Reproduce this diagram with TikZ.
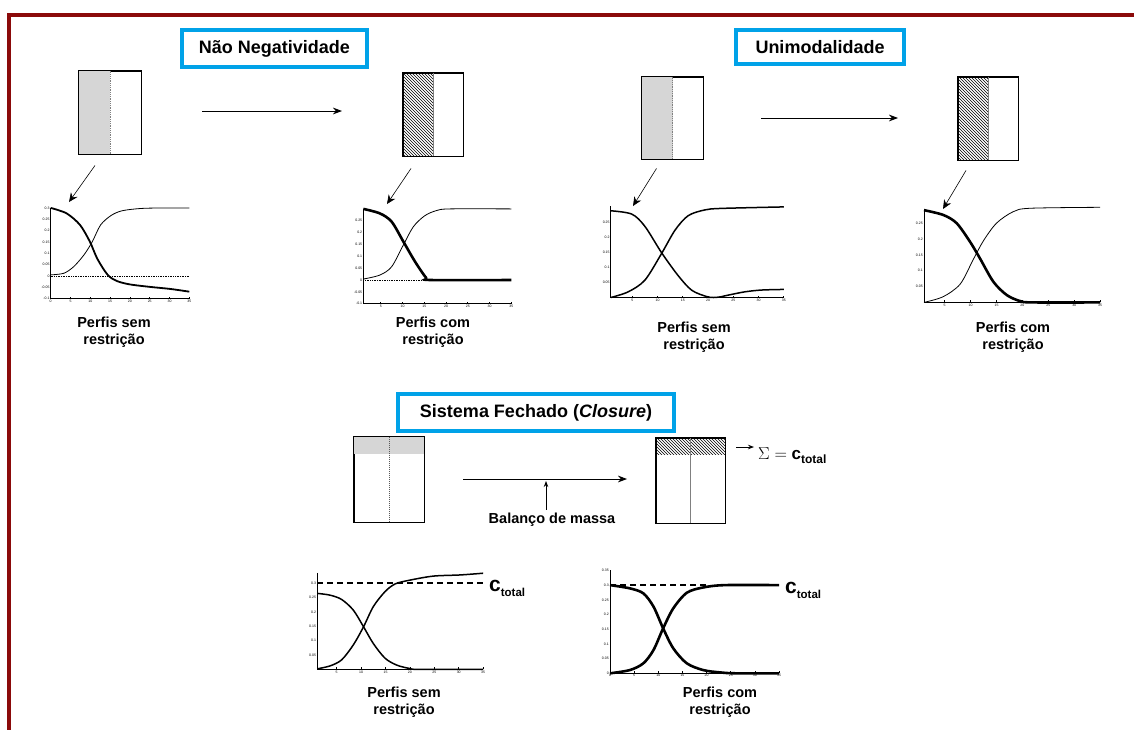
\documentclass[tikz,border=0pt]{standalone}
\usepackage{fontspec}
\setmainfont{Liberation Sans}
\usepackage{xcolor}
\usepackage{tikz}
\usetikzlibrary{arrows.meta,positioning,patterns}
\definecolor{framered}{HTML}{8B0A0A}
\definecolor{titlecyan}{HTML}{00A2E8}

\begin{document}
\begin{tikzpicture}[
  x=1pt, y=-1pt,
  titlebox/.style={draw=titlecyan, line width=3.5pt, fill=white, inner sep=0pt, font=\bfseries\fontsize{18}{20}\selectfont},
  matbox/.style={draw, line width=0.9pt, inner sep=0pt},
  proflbl/.style={align=center, font=\bfseries\fontsize{14.5}{16.5}\selectfont},
  ticklbl/.style={inner sep=1pt, font=\fontsize{3.5}{4}\selectfont},
  axisline/.style={line width=0.8pt},
  profthin/.style={line width=0.8pt},
  profmid/.style={line width=1.5pt},
  profbold/.style={line width=2.6pt},
  ctotal/.style={dashed, line width=1.6pt, dash pattern=on 6pt off 4pt},
  ctot/.style={anchor=west, inner sep=0pt},
  >={Stealth[length=3.2mm]},
  diag/.style={->, line width=0.6pt, >={Stealth[length=9pt, width=8pt]}}
]
  \useasboundingbox (0,0) rectangle (1134,729);
  \draw[framered, line width=4.5pt] (9,740) -- (9,15) -- (1140,15);

  % titles
  \node[titlebox, minimum width=185pt, minimum height=37pt] (tNN) at (274.5,48.5) {Não Negatividade};
  \node[titlebox, minimum width=168pt, minimum height=34pt] (tUni) at (820,47) {Unimodalidade};
  \node[titlebox, minimum width=276pt, minimum height=37pt] (tClos) at (536,412.5) {Sistema Fechado (\textit{Closure})};

  % data matrices
  \node[matbox, minimum width=62pt, minimum height=83pt] (mNNa) at (110,112.5) {};
  \fill[gray!32] (mNNa.north west) rectangle (mNNa.south);
  \draw[gray, densely dotted, line width=0.8pt] (mNNa.north) -- (mNNa.south);
  \draw[matbox] (mNNa.north west) rectangle (mNNa.south east);

  \node[matbox, minimum width=60pt, minimum height=83pt] (mNNb) at (433,114.5) {};
  \fill[pattern=north west lines] (mNNb.north west) rectangle (mNNb.south);
  \draw[gray, line width=0.5pt] (mNNb.north) -- (mNNb.south);
  \draw[matbox] (mNNb.north west) rectangle (mNNb.south east);

  \node[matbox, minimum width=61pt, minimum height=82pt] (mUa) at (672.5,118) {};
  \fill[gray!32] (mUa.north west) rectangle (mUa.south);
  \draw[gray, densely dotted, line width=0.8pt] (mUa.north) -- (mUa.south);
  \draw[matbox] (mUa.north west) rectangle (mUa.south east);

  \node[matbox, minimum width=60pt, minimum height=83pt] (mUb) at (988,118.5) {};
  \fill[pattern=north west lines] (mUb.north west) rectangle (mUb.south);
  \draw[gray, line width=0.5pt] (mUb.north) -- (mUb.south);
  \draw[matbox] (mUb.north west) rectangle (mUb.south east);

  \node[matbox, minimum width=70pt, minimum height=85pt] (mCa) at (389,479.5) {};
  \fill[gray!32] (mCa.north west) rectangle ([yshift=-17pt]mCa.north east);
  \draw[gray!70!black, densely dotted, line width=1pt] (mCa.north) -- (mCa.south);
  \draw[matbox] (mCa.north west) rectangle (mCa.south east);

  \node[matbox, minimum width=69pt, minimum height=85pt] (mCb) at (690.5,480.5) {};
  \fill[pattern=north west lines] (mCb.north west) rectangle ([yshift=-17pt]mCb.north east);
  \draw[gray, line width=0.5pt] (mCb.north) -- (mCb.south);
  \draw[matbox] (mCb.north west) rectangle (mCb.south east);

  % horizontal arrows
  \coordinate (nnA) at (202,111);
  \coordinate (nnB) at (342,111);
  \draw[->, line width=0.9pt] (nnA) -- (nnB);
  \coordinate (uA) at (761,118);
  \coordinate (uB) at (898,118);
  \draw[->, line width=0.9pt] (uA) -- (uB);
  \coordinate (cA) at (463,479);
  \coordinate (cB) at (627,479);
  \draw[->, line width=0.9pt] (cA) -- (cB);

  \node[proflbl] (bal) at (552,520) {Balanço de massa};
  \coordinate (balTip) at (546,481);
  \draw[->, line width=0.8pt, >={Stealth[length=6pt]}] (bal.north -| balTip) -- (balTip);

  \coordinate (sumA) at (736,447);
  \node[ctot] (sum) at (758,456) {\fontsize{17}{17}\selectfont$\Sigma=$ \textbf{c}\raisebox{-4pt}{\bfseries\fontsize{12}{12}\selectfont total}};
  \draw[->, line width=0.8pt, >={Stealth[length=6pt]}] (sumA) -- ([xshift=-4pt]sum.west |- sumA);

  % arrows from matrices to profiles
  \coordinate (dNNa) at (69,202);
  \coordinate (dNNb) at (387,204);
  \coordinate (dUa) at (633,206);
  \coordinate (dUb) at (943,209);
  \draw[diag] ([xshift=-15pt,yshift=-11pt]mNNa.south) -- (dNNa);
  \draw[diag] ([xshift=-22pt,yshift=-12pt]mNNb.south) -- (dNNb);
  \draw[diag] ([xshift=-16pt,yshift=-9pt]mUa.south) -- (dUa);
  \draw[diag] ([xshift=-22pt,yshift=-10pt]mUb.south) -- (dUb);

  % profile 1: sem restricao
  \begin{scope}[shift={(50.7,276)}, x=3.96pt, y=227pt]
    \draw[axisline] (0,0.3) -- (0,-0.1) -- (35,-0.1);
    \foreach \v in {0.3,0.25,0.2,0.15,0.1,0.05,0,-0.05,-0.1}
      \node[ticklbl, left] at (0,\v) {\v};
    \foreach \v in {0,5,...,35} {
      \draw[axisline] (\v,-0.1) -- ++(0,2pt);
      \node[ticklbl, below] at (\v,-0.1) {\v};
    }
    \draw[densely dotted, line width=0.7pt] (0,0) -- (35,0);
    \draw[profthin] plot[smooth] coordinates {(0,0.005) (3.3,0.012) (5.8,0.041) (8.4,0.093) (10.5,0.151) (12.6,0.225) (15.2,0.266) (17.7,0.286) (21.1,0.295) (25,0.299) (35,0.3)};
    \draw[profbold, line width=1.8pt] plot[smooth] coordinates {(0,0.3) (4,0.276) (7.4,0.225) (9.9,0.151) (11.8,0.075) (14.4,0.005) (16.7,-0.022) (20,-0.037) (25.1,-0.048) (30.2,-0.057) (35,-0.069)};
  \end{scope}
  \node[proflbl] (lNNa) at (114,332) {Perfis sem\\restrição};

  % profile 2: com restricao
  \begin{scope}[shift={(359,280)}, x=4.35pt, y=237pt]
    \draw[axisline] (1,0.3) -- (1,-0.1) -- (35,-0.1);
    \foreach \v in {0.25,0.2,0.15,0.1,0.05,0,-0.05,-0.1}
      \node[ticklbl, left] at (1,\v) {\v};
    \foreach \v in {5,10,...,35} {
      \draw[axisline] (\v,-0.1) -- ++(0,2pt);
      \node[ticklbl, below] at (\v,-0.1) {\v};
    }
    \draw[densely dotted, line width=0.7pt] (1,0) -- (16,0);
    \draw[profthin] plot[smooth] coordinates {(1,0.004) (4.8,0.021) (7.5,0.056) (10.2,0.148) (12.5,0.225) (15.1,0.271) (17.8,0.293) (20.9,0.3) (35,0.3)};
    \draw[profbold] plot[smooth] coordinates {(1,0.3) (4.8,0.281) (7.5,0.246) (10.2,0.162) (12.9,0.077) (15.4,0.01) (16.5,0) (35,0)};
  \end{scope}
  \node[proflbl] (lNNb) at (433,332) {Perfis com\\restrição};

  % profile 3: sem restricao
  \begin{scope}[shift={(607,297.5)}, x=5.05pt, y=299pt]
    \draw[axisline] (0.75,0.305) -- (0.75,0) -- (35,0);
    \foreach \v in {0.25,0.2,0.15,0.1,0.05}
      \node[ticklbl, left] at (0.75,\v) {\v};
    \foreach \v in {5,10,...,35} {
      \draw[axisline] (\v,0) -- ++(0,2pt);
      \node[ticklbl, below] at (\v,0) {\v};
    }
    \draw[profmid] plot[smooth] coordinates {(0.75,0) (4.2,0.019) (7.5,0.058) (10.8,0.147) (13.5,0.226) (16.1,0.274) (19.4,0.293) (22.7,0.298) (35,0.303)};
    \draw[profmid] plot[smooth] coordinates {(0.75,0.29) (4.9,0.279) (7.5,0.238) (10.8,0.15) (14.1,0.073) (16.8,0.024) (20,0.002) (22,0.001) (24,0.008) (27.3,0.019) (30.6,0.025) (35,0.027)};
  \end{scope}
  \node[proflbl] (lUa) at (694,337) {Perfis sem\\restrição};

  % profile 4: com restricao
  \begin{scope}[shift={(918.8,302.4)}, x=5.18pt, y=317pt]
    \draw[axisline] (1,0.295) -- (1,0) -- (35,0);
    \foreach \v in {0.25,0.2,0.15,0.1,0.05}
      \node[ticklbl, left] at (1,\v) {\v};
    \foreach \v in {5,10,...,35} {
      \draw[axisline] (\v,0) -- ++(0,2pt);
      \node[ticklbl, below] at (\v,0) {\v};
    }
    \draw[profthin] plot[smooth] coordinates {(1,0) (4.7,0.018) (8,0.058) (10.5,0.135) (12.5,0.195) (15,0.25) (18.2,0.286) (21.5,0.297) (35,0.3)};
    \draw[profbold] plot[smooth] coordinates {(1,0.291) (4.7,0.276) (7.3,0.25) (9.9,0.191) (11.8,0.139) (14.4,0.065) (17,0.023) (19.6,0.004) (22,0) (35,0)};
  \end{scope}
  \node[proflbl] (lUb) at (1013,337) {Perfis com\\restrição};

  % profile 5: closure sem restricao
  \begin{scope}[shift={(312.3,669.4)}, x=4.88pt, y=288pt]
    \draw[axisline] (1,0.335) -- (1,0) -- (35,0);
    \foreach \v in {0.3,0.25,0.2,0.15,0.1,0.05}
      \node[ticklbl, left] at (1,\v) {\v};
    \foreach \v in {5,10,...,35} {
      \draw[axisline] (\v,0) -- ++(0,2pt);
      \node[ticklbl, below] at (\v,0) {\v};
    }
    \draw[ctotal] (1,0.3) -- (35.2,0.3);
    \draw[profmid] plot[smooth] coordinates {(1,0.002) (3.6,0.012) (6,0.033) (8.4,0.085) (10.5,0.148) (12.5,0.218) (14.9,0.27) (17,0.297) (20,0.31) (24.8,0.324) (30.3,0.328) (35,0.334)};
    \draw[profmid] plot[smooth] coordinates {(1,0.264) (3.6,0.258) (6,0.243) (8.4,0.206) (10.5,0.148) (12.5,0.09) (14.9,0.039) (17.3,0.015) (20,0.003) (22,0) (35,0)};
  \end{scope}
  \node[ctot] (cTa) at (489,588) {\bfseries\fontsize{21}{21}\selectfont c\raisebox{-5pt}{\fontsize{11.5}{12}\selectfont total}};
  \node[proflbl] (lCa) at (404,702) {Perfis sem\\restrição};

  % profile 6: closure com restricao
  \begin{scope}[shift={(610,673.3)}, x=4.83pt, y=294pt]
    \draw[axisline] (0,0.35) -- (0,0) -- (35,0);
    \foreach \v in {0.35,0.3,0.25,0.2,0.15,0.1,0.05,0}
      \node[ticklbl, left] at (0,\v) {\v};
    \foreach \v in {0,5,...,35} {
      \draw[axisline] (\v,0) -- ++(0,2pt);
      \node[ticklbl, below] at (\v,0) {\v};
    }
    \draw[ctotal] (0,0.3) -- (20,0.3);
    \draw[profbold] plot[smooth] coordinates {(0,0) (4.1,0.011) (6.9,0.034) (9,0.079) (11,0.153) (13.1,0.221) (15.9,0.274) (19.3,0.292) (23.8,0.3) (35,0.3)};
    \draw[profbold] plot[smooth] coordinates {(0,0.3) (4.1,0.289) (6.9,0.272) (9,0.227) (11,0.153) (13.1,0.085) (15.9,0.034) (19.3,0.011) (22.8,0.003) (26,0) (35,0)};
  \end{scope}
  \node[ctot] (cTb) at (785,590) {\bfseries\fontsize{21}{21}\selectfont c\raisebox{-5pt}{\fontsize{11.5}{12}\selectfont total}};
  \node[proflbl] (lCb) at (720,702) {Perfis com\\restrição};
\end{tikzpicture}
\end{document}
